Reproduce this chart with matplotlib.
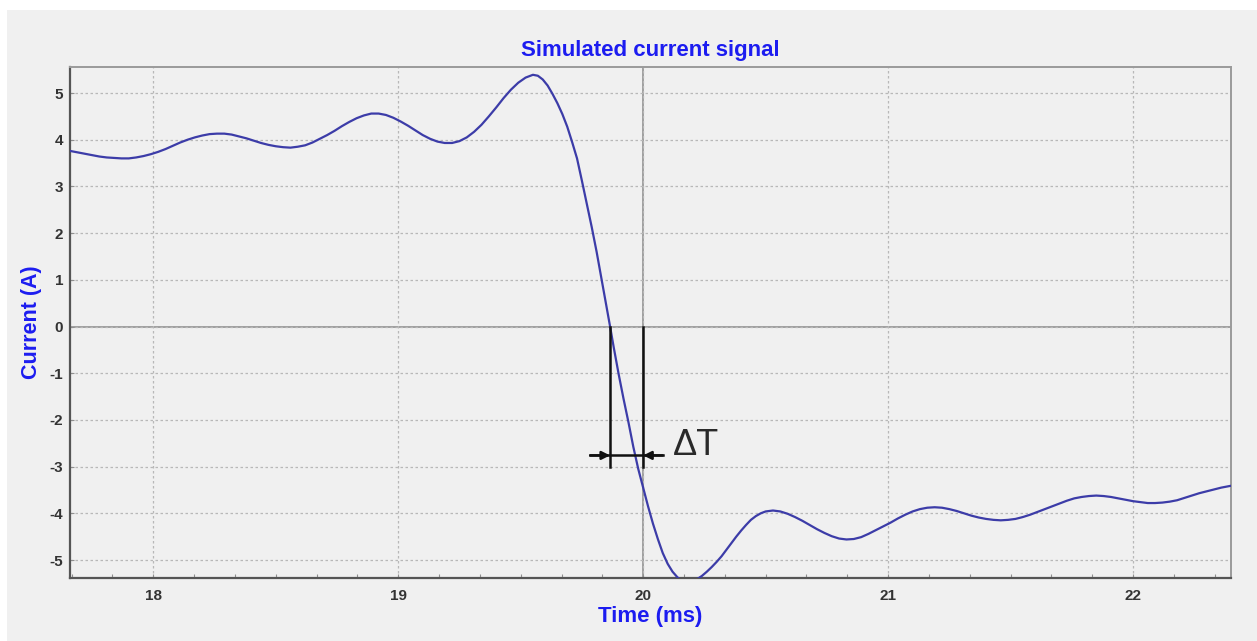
import matplotlib
matplotlib.use("Agg")
import matplotlib.pyplot as plt
from matplotlib.patches import Rectangle
from matplotlib.ticker import MultipleLocator

plt.rcParams["axes.unicode_minus"] = False
plt.rcParams["font.family"] = ["Liberation Sans", "DejaVu Sans"]

# Simulated current trace: time (ms) and current (A)
time_ms = [
    17.66, 17.69, 17.72, 17.75, 17.78, 17.81, 17.84, 17.87, 17.90, 17.93,
    17.96, 17.99, 18.02, 18.05, 18.08, 18.11, 18.14, 18.17, 18.20, 18.23,
    18.26, 18.29, 18.32, 18.35, 18.38, 18.41, 18.44, 18.47, 18.50, 18.53,
    18.56, 18.59, 18.62, 18.65, 18.68, 18.71, 18.74, 18.77, 18.80, 18.83,
    18.86, 18.89, 18.92, 18.95, 18.98, 19.01, 19.04, 19.07, 19.10, 19.13,
    19.16, 19.19, 19.22, 19.25, 19.28, 19.31, 19.34, 19.37, 19.40, 19.43,
    19.46, 19.49, 19.52, 19.55, 19.57, 19.59, 19.61, 19.63, 19.65, 19.67,
    19.69, 19.71, 19.73, 19.75, 19.77, 19.79, 19.81, 19.83, 19.85, 19.865,
    19.88, 19.90, 19.92, 19.94, 19.96, 19.98, 20.00, 20.02, 20.04, 20.06,
    20.08, 20.10, 20.12, 20.14, 20.16, 20.18, 20.20, 20.22, 20.24, 20.26,
    20.28, 20.30, 20.32, 20.34, 20.36, 20.38, 20.40, 20.42, 20.44, 20.46,
    20.48, 20.50, 20.53, 20.56, 20.59, 20.62, 20.65, 20.68, 20.71, 20.74,
    20.77, 20.80, 20.83, 20.86, 20.89, 20.92, 20.95, 20.98, 21.01, 21.04,
    21.07, 21.10, 21.13, 21.16, 21.19, 21.22, 21.25, 21.28, 21.31, 21.34,
    21.37, 21.40, 21.43, 21.46, 21.49, 21.52, 21.55, 21.58, 21.61, 21.64,
    21.67, 21.70, 21.73, 21.76, 21.79, 21.82, 21.85, 21.88, 21.91, 21.94,
    21.97, 22.00, 22.03, 22.06, 22.09, 22.12, 22.15, 22.18, 22.21, 22.24,
    22.27, 22.30, 22.33, 22.36, 22.40,
]
current_a = [
    3.76, 3.73, 3.70, 3.67, 3.64, 3.62, 3.61, 3.60, 3.60, 3.62,
    3.65, 3.69, 3.74, 3.80, 3.87, 3.94, 4.00, 4.05, 4.09, 4.12,
    4.13, 4.13, 4.11, 4.07, 4.03, 3.98, 3.93, 3.89, 3.86, 3.84,
    3.83, 3.85, 3.88, 3.94, 4.02, 4.10, 4.19, 4.29, 4.38, 4.46,
    4.52, 4.56, 4.56, 4.53, 4.47, 4.39, 4.30, 4.20, 4.10, 4.02,
    3.96, 3.93, 3.93, 3.97, 4.05, 4.17, 4.32, 4.50, 4.69, 4.89,
    5.07, 5.22, 5.33, 5.39, 5.37, 5.29, 5.16, 4.98, 4.78, 4.55,
    4.28, 3.95, 3.60, 3.12, 2.62, 2.13, 1.60, 1.02, 0.44, 0.00,
    -0.45, -1.02, -1.55, -2.05, -2.58, -3.05, -3.45, -3.85, -4.22, -4.55,
    -4.85, -5.08, -5.25, -5.37, -5.45, -5.48, -5.46, -5.41, -5.34, -5.25,
    -5.15, -5.04, -4.92, -4.78, -4.64, -4.50, -4.37, -4.25, -4.14, -4.06,
    -4.00, -3.96, -3.94, -3.96, -4.01, -4.08, -4.16, -4.25, -4.34, -4.42,
    -4.49, -4.54, -4.56, -4.55, -4.51, -4.44, -4.36, -4.28, -4.20, -4.11,
    -4.03, -3.96, -3.91, -3.88, -3.87, -3.88, -3.91, -3.95, -4.00, -4.05,
    -4.09, -4.12, -4.14, -4.15, -4.14, -4.12, -4.08, -4.03, -3.97, -3.91,
    -3.85, -3.79, -3.73, -3.68, -3.65, -3.63, -3.62, -3.63, -3.65, -3.68,
    -3.71, -3.74, -3.76, -3.78, -3.78, -3.77, -3.75, -3.72, -3.67, -3.62,
    -3.57, -3.53, -3.49, -3.45, -3.41,
]

x_ticks = [18, 19, 20, 21, 22]
y_ticks = [-5, -4, -3, -2, -1, 0, 1, 2, 3, 4, 5]

# Delta-T marker: zero crossing of the trace and the 20 ms reference
dt_start = 19.865
dt_end = 20.0
dt_level = -2.76
dt_bottom = -3.0

BG = "#f0f0f0"
BLUE = "#1c1cf0"
TRACE = "#3c3ca8"
TICK_TXT = "#333333"

fig = plt.figure(figsize=(12.57, 6.41), dpi=100, facecolor="white")
fig.patches.append(Rectangle((7 / 1257, 0), 1, 631 / 641, transform=fig.transFigure,
                             facecolor=BG, edgecolor="none", zorder=-10))

ax = fig.add_axes([70 / 1257, 63 / 641, 1161 / 1257, 511 / 641])
ax.set_facecolor(BG)

ax.set_xlim(17.66, 22.40)
ax.set_ylim(-5.385, 5.557)
ax.set_xticks(x_ticks)
ax.set_yticks(y_ticks)
ax.xaxis.set_minor_locator(MultipleLocator(1 / 6))

ax.grid(True, which="major", linestyle=(0, (2, 2)), color="#b8b8b8", linewidth=0.9)
ax.axhline(0, color="#8a8a8a", linewidth=1.1, zorder=1)
ax.axvline(20, color="#8a8a8a", linewidth=1.1, zorder=1)

ax.plot(time_ms, current_a, color=TRACE, linewidth=1.6, zorder=3,
        solid_joinstyle="round", antialiased=True)

# Delta-T construction lines and arrows
ax.plot([dt_start, dt_start], [0, dt_bottom], color="#111111", linewidth=1.8, zorder=4)
ax.plot([dt_end, dt_end], [0, dt_bottom], color="#111111", linewidth=1.8, zorder=4)
ax.plot([dt_start - 0.081, dt_end + 0.08], [dt_level, dt_level], color="#111111",
        linewidth=1.8, zorder=4)
ax.annotate("", xy=(dt_start, dt_level), xytext=(dt_start - 0.081, dt_level),
            arrowprops=dict(arrowstyle="-|>", color="#111111", lw=1.8,
                            mutation_scale=12, shrinkA=0, shrinkB=0), zorder=5)
ax.annotate("", xy=(dt_end, dt_level), xytext=(dt_end + 0.08, dt_level),
            arrowprops=dict(arrowstyle="-|>", color="#111111", lw=1.8,
                            mutation_scale=12, shrinkA=0, shrinkB=0), zorder=5)
ax.text(20.122, dt_level, "\u0394T", fontsize=26, color="#2a2a2a",
        ha="left", va="baseline", family=["Liberation Sans", "DejaVu Sans"])

for side in ("left", "bottom"):
    ax.spines[side].set_color("#555555")
    ax.spines[side].set_linewidth(1.6)
for side in ("top", "right"):
    ax.spines[side].set_color("#9a9a9a")
    ax.spines[side].set_linewidth(1.4)

ax.tick_params(axis="both", which="major", direction="in", length=3, width=0.8,
               color="#909090", labelcolor=TICK_TXT, labelsize=11)
ax.tick_params(axis="x", which="major", pad=8)
ax.tick_params(axis="y", which="major", pad=5)
ax.tick_params(axis="x", which="minor", direction="in", length=3, width=0.8, color="#909090")
for lbl in ax.get_xticklabels() + ax.get_yticklabels():
    lbl.set_fontweight("bold")

ax.set_title("Simulated current signal", color=BLUE, fontsize=16, fontweight="bold", pad=8)
ax.set_xlabel("Time (ms)", color=BLUE, fontsize=16, fontweight="bold", labelpad=2)
ax.set_ylabel("Current (A)", color=BLUE, fontsize=15.5, fontweight="bold", labelpad=5)

fig.savefig("out.png", dpi=100, facecolor=fig.get_facecolor())
